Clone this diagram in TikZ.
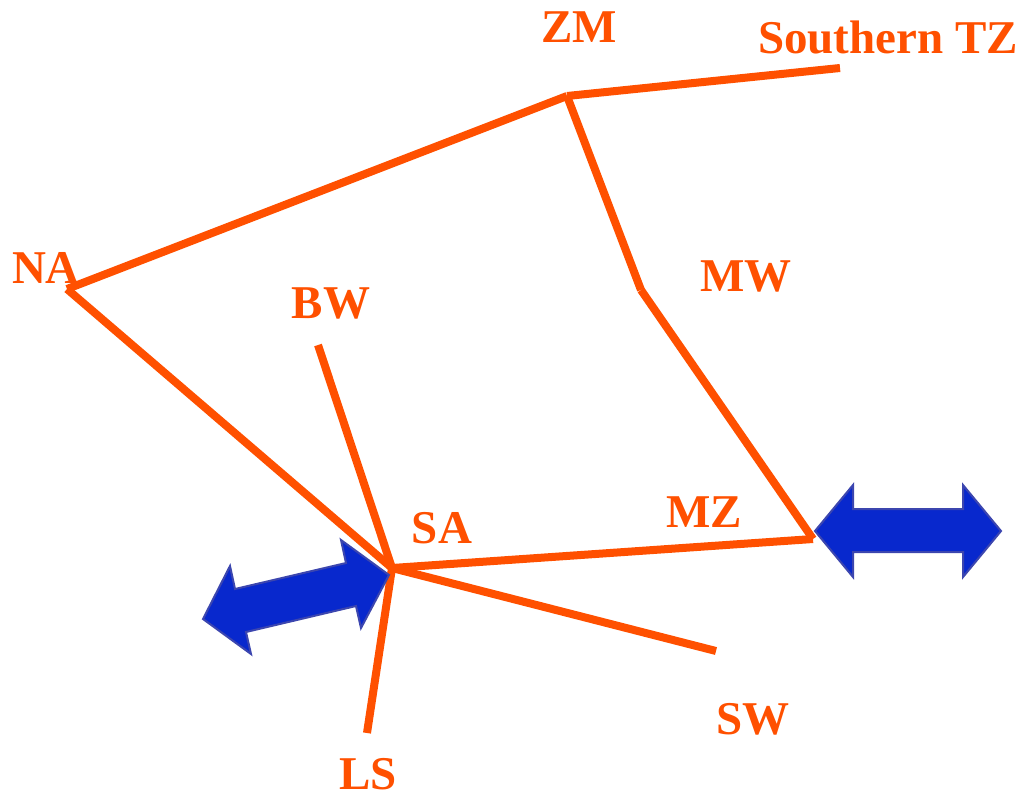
\documentclass[tikz,border=0pt]{standalone}
\usepackage{fontspec}
\setmainfont{Liberation Serif}
\definecolor{lnk}{RGB}{255,80,0}
\definecolor{arrfill}{RGB}{8,40,205}
\definecolor{arrline}{RGB}{60,70,175}
\begin{document}
\begin{tikzpicture}[x=1pt,y=-1pt,
  lab/.style={text=lnk,font=\bfseries\fontsize{47}{50}\selectfont,inner sep=0pt,anchor=center},
  lnkline/.style={draw=lnk,line width=8pt},
  block/.style={fill=arrfill,draw=arrline,line width=2pt,line join=miter}]
\useasboundingbox (0,0) rectangle (1020,796);
\coordinate (na) at (67,289);
\coordinate (zm) at (567,96);
\coordinate (tz) at (840,68);
\coordinate (mw) at (641,290);
\coordinate (mz) at (813,539);
\coordinate (sa) at (392,568);
\coordinate (bw) at (318,345);
\coordinate (sw) at (716,651);
\coordinate (ls) at (367,733);
\draw[lnkline] (na) -- (zm);
\draw[lnkline] (zm) -- (tz);
\draw[lnkline] (zm) -- (mw);
\draw[lnkline] (mw) -- (mz);
\draw[lnkline] (na) -- (sa);
\draw[lnkline] (bw) -- (sa);
\draw[lnkline] (sa) -- (mz);
\draw[lnkline] (sa) -- (sw);
\draw[lnkline] (sa) -- (ls);
\node[lab] (nZM) at (579,27) {ZM};
\node[lab] (nTZ) at (888,37) {Southern TZ};
\node[lab] (nNA) at (46,268) {NA};
\node[lab] (nBW) at (331,303) {BW};
\node[lab] (nMW) at (746,276) {MW};
\node[lab] (nSA) at (442,528) {SA};
\node[lab] (nMZ) at (704,512) {MZ};
\node[lab] (nSW) at (753,719) {SW};
\node[lab] (nLS) at (368,774) {LS};
\draw[block] (815,531) -- (853,485) -- (853,509) -- (963,509) -- (963,485) -- (1001,531) -- (963,577) -- (963,552) -- (853,552) -- (853,577) -- cycle;
\draw[block] (389,575) -- (341,540) -- (346,563) -- (235,589) -- (230,566) -- (203,619) -- (251,654) -- (246,632) -- (356,606) -- (361,628) -- cycle;
\end{tikzpicture}
\end{document}
